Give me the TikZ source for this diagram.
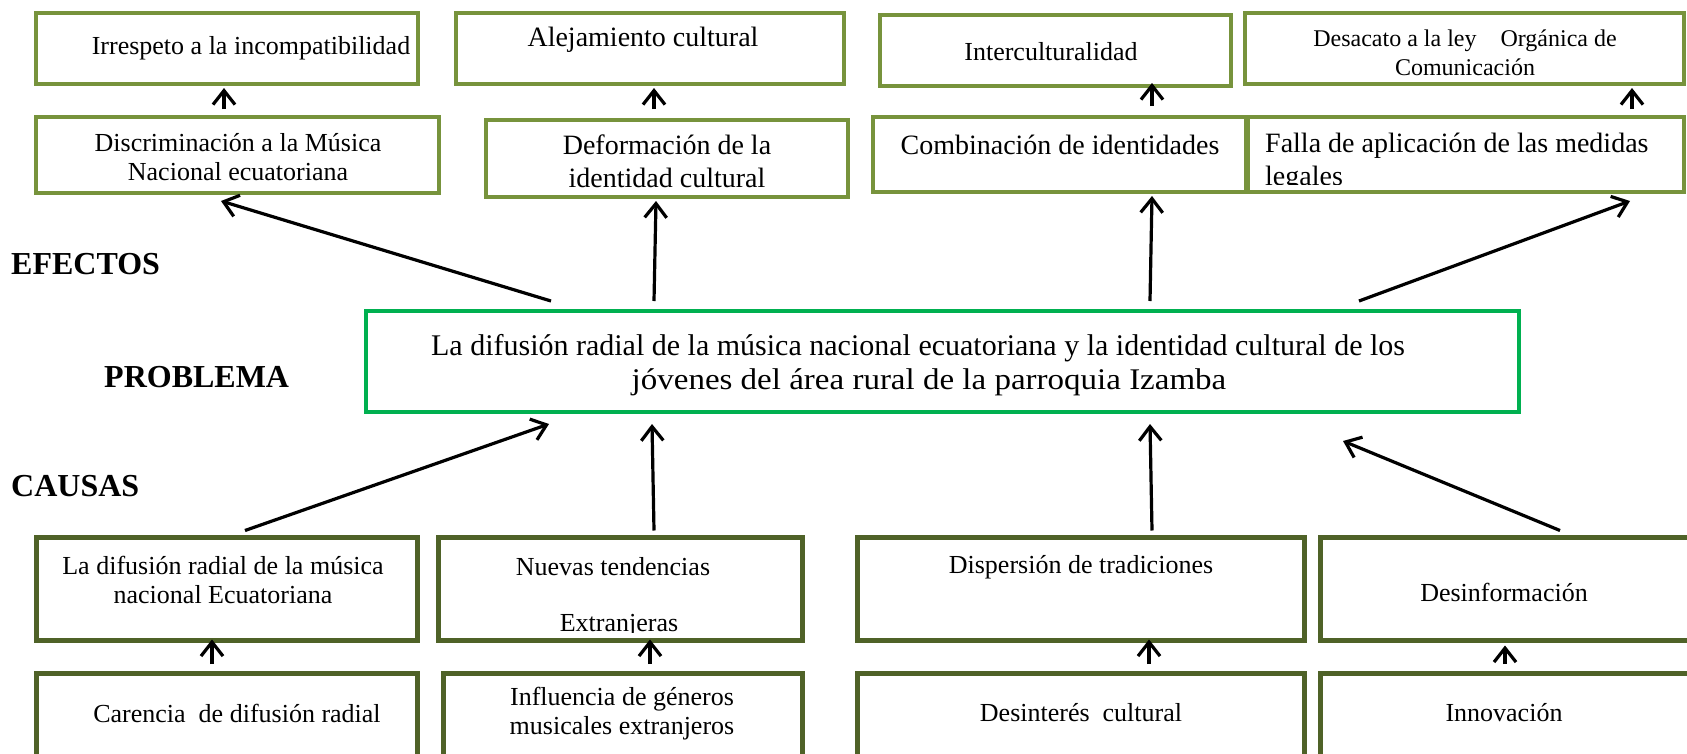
\documentclass[tikz,border=0pt]{standalone}
\usepackage{fontspec}
\setmainfont{Liberation Serif}
\newfontfamily\anchafont[FakeStretch=1.1]{Liberation Serif}
\usetikzlibrary{arrows.meta}
\definecolor{oliva}{HTML}{77933C}
\definecolor{olivaosc}{HTML}{4F6228}
\definecolor{verdeprob}{HTML}{00B050}
\newcommand{\chico}{\fontsize{26}{29}\selectfont}
\newcommand{\menor}{\fontsize{24}{29}\selectfont}
\newcommand{\grande}{\fontsize{28}{33}\selectfont}
\tikzset{
  efecto/.style={draw=oliva,line width=4pt,rectangle,inner sep=0pt},
  causa/.style={draw=olivaosc,line width=5pt,rectangle,inner sep=0pt},
  problema/.style={draw=verdeprob,line width=4pt,rectangle,inner sep=0pt},
  texto/.style={align=center,inner sep=0pt},
  rotulo/.style={anchor=west,inner sep=0pt,font=\fontsize{32}{36}\selectfont\bfseries},
  flecha/.style={->,line width=3.2pt}
}
\begin{document}
\begin{tikzpicture}[x=1pt,y=-1pt,>={Straight Barb[length=14pt,width=22pt]}]
  \useasboundingbox (0,0) rectangle (1687,753);
  \clip (0,0) rectangle (1687,753);
  % efectos
  \node[efecto,minimum width=382pt,minimum height=71pt] (irrespeto) at (227,48.5) {};
  \node[efecto,minimum width=388pt,minimum height=71pt] (alejamiento) at (650,48.5) {};
  \node[efecto,minimum width=351pt,minimum height=71pt] (intercult) at (1055.5,50.5) {};
  \node[efecto,minimum width=439pt,minimum height=71pt] (desacato) at (1464.5,48.5) {};
  \node[efecto,minimum width=403pt,minimum height=76pt] (discrim) at (237.5,155) {};
  \node[efecto,minimum width=362pt,minimum height=77pt] (deform) at (667,158.5) {};
  \node[efecto,minimum width=373pt,minimum height=75pt] (combin) at (1059.5,154.5) {};
  \node[efecto,minimum width=436pt,minimum height=75pt] (falla) at (1466,154.5) {};
  \node[texto,font=\chico] (t-irrespeto) at (251,48) {Irrespeto a la incompatibilidad};
  \node[texto,font=\grande] (t-alejamiento) at (643,40) {Alejamiento cultural};
  \node[texto,font=\chico] (t-intercult) at (1051,52) {Interculturalidad};
  \node[texto,font=\menor] (t-desacato) at (1465,52.5) {Desacato a la ley\quad Orgánica de\\Comunicación};
  \node[texto,font=\chico] (t-discrim) at (238,157.5) {Discriminación a la Música\\Nacional ecuatoriana};
  \node[texto,font=\grande] (t-deform) at (667,161.5) {Deformación de la\\identidad cultural};
  \node[texto,font=\grande] (t-combin) at (1060,145) {Combinación de identidades};
  \begin{scope}
    \clip (falla.north west) rectangle ([yshift=10pt]falla.south east);
    \node[texto,font=\grande,align=left,anchor=north west] (t-falla) at (1265,133) {Falla de aplicación de las medidas\\legales};
  \end{scope}
  % problema
  \node[problema,minimum width=1153pt,minimum height=101pt] (prob) at (942.5,361.5) {};
  \node[texto,font=\fontsize{30}{34}\selectfont] (t-prob) at (918,365) {La difusión radial de la música nacional ecuatoriana y la identidad cultural de los\\\hspace*{22pt}{\anchafont jóvenes del área rural de la parroquia Izamba}};
  \node[rotulo] (efectos) at (11,264) {EFECTOS};
  \node[rotulo] (problemalbl) at (104,377) {PROBLEMA};
  \node[rotulo] (causas) at (11,486) {CAUSAS};
  % causas
  \node[causa,minimum width=381pt,minimum height=103pt] (difusion) at (227,589) {};
  \node[causa,minimum width=364pt,minimum height=103pt] (nuevas) at (620.5,589) {};
  \node[causa,minimum width=447pt,minimum height=103pt] (dispers) at (1081,589) {};
  \node[causa,minimum width=387pt,minimum height=103pt] (desinf) at (1514,589) {};
  \node[causa,minimum width=381pt,minimum height=104pt] (carencia) at (227,725) {};
  \node[causa,minimum width=359pt,minimum height=104pt] (influencia) at (623,725) {};
  \node[causa,minimum width=447pt,minimum height=104pt] (desinteres) at (1081,725) {};
  \node[causa,minimum width=387pt,minimum height=104pt] (innovacion) at (1514,725) {};
  \node[texto,font=\chico] (t-difusion) at (223,579.5) {La difusión radial de la música\\nacional Ecuatoriana};
  \node[texto,font=\chico] (t-nuevas) at (613,567) {Nuevas tendencias};
  \begin{scope}
    \clip (nuevas.north west) rectangle ([yshift=11pt]nuevas.south east);
    \node[texto,font=\chico] (t-extranjeras) at (619,626) {Extranjeras};
  \end{scope}
  \node[texto,font=\chico] (t-dispers) at (1081,567) {Dispersión de tradiciones};
  \node[texto,font=\chico] (t-desinf) at (1504,592) {Desinformación};
  \node[texto,font=\chico] (t-carencia) at (237,713) {Carencia\ \ de difusión radial};
  \node[texto,font=\chico] (t-influencia) at (622,713.5) {Influencia de géneros\\musicales extranjeros};
  \node[texto,font=\chico] (t-desinteres) at (1081,713) {Desinterés\ \ cultural};
  \node[texto,font=\chico] (t-innovacion) at (1504,713) {Innovación};
  % flechas de efectos
  \draw[flecha] ([xshift=187pt,yshift=8pt]prob.north west) -- ([xshift=-16.5pt,yshift=-6pt]discrim.south);
  \draw[flecha] ([xshift=290pt,yshift=8pt]prob.north west) -- ([xshift=-11pt,yshift=-2pt]deform.south);
  \draw[flecha] ([xshift=786pt,yshift=8pt]prob.north west) -- ([xshift=92.5pt,yshift=-2pt]combin.south);
  \draw[flecha] ([xshift=995pt,yshift=8pt]prob.north west) -- ([xshift=164pt,yshift=-7pt]falla.south);
  \draw[flecha] ([xshift=-13.5pt,yshift=6pt]discrim.north) -- ([xshift=-3pt,yshift=-2pt]irrespeto.south);
  \draw[flecha] ([xshift=-13pt,yshift=9pt]deform.north) -- ([xshift=4pt,yshift=-2pt]alejamiento.south);
  \draw[flecha] ([xshift=92.5pt,yshift=9pt]combin.north) -- ([xshift=96.5pt,yshift=5pt]intercult.south);
  \draw[flecha] ([xshift=166pt,yshift=6pt]falla.north) -- ([xshift=167.5pt,yshift=-2pt]desacato.south);
  % flechas de causas
  \draw[flecha] ([xshift=18pt,yshift=4.5pt]difusion.north) -- ([xshift=185pt,yshift=-10pt]prob.south west);
  \draw[flecha] ([xshift=33.5pt,yshift=4.5pt]nuevas.north) -- ([xshift=288pt,yshift=-10pt]prob.south west);
  \draw[flecha] ([xshift=71pt,yshift=4.5pt]dispers.north) -- ([xshift=786pt,yshift=-10pt]prob.south west);
  \draw[flecha] ([xshift=46pt,yshift=4.5pt]desinf.north) -- ([xshift=979pt,yshift=-27pt]prob.south west);
  \draw[flecha] ([xshift=-15pt,yshift=6.5pt]carencia.north) -- ([xshift=-15pt,yshift=3.5pt]difusion.south);
  \draw[flecha] ([xshift=27pt,yshift=6.5pt]influencia.north) -- ([xshift=29.5pt,yshift=3.5pt]nuevas.south);
  \draw[flecha] ([xshift=68pt,yshift=6.5pt]desinteres.north) -- ([xshift=68pt,yshift=3.5pt]dispers.south);
  \draw[flecha] ([xshift=-9pt,yshift=6.5pt]innovacion.north) -- ([xshift=-9pt,yshift=-2.5pt]desinf.south);
\end{tikzpicture}
\end{document}
